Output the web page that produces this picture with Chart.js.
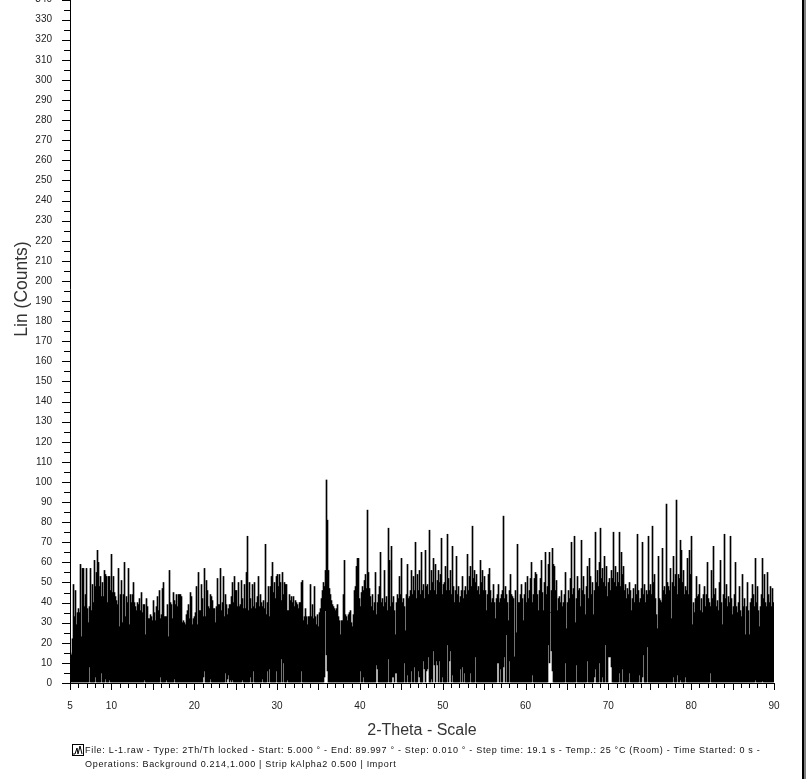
<!DOCTYPE html>
<html>
<head>
<meta charset="utf-8">
<title>L-1 XRD</title>
<script src="https://cdn.jsdelivr.net/npm/chart.js@4"></script>
<style>
  html, body { margin: 0; height: 100%; background: #fff; overflow: hidden; }
  #chart { position: absolute; left: 0; top: -129px; }
  .edge { position: absolute; top: 0; height: 779px; }
  #footer {
    position: absolute; left: 85px; top: 743px; white-space: nowrap;
    font: 9px/14px "Liberation Sans", Arial, sans-serif; letter-spacing: 0.7px; color: #111;
  }
  #scanIcon { position: absolute; left: 72px; top: 744px; }
</style>
</head>
<body>
<canvas id="chart" width="806" height="908"></canvas>
<svg id="scanIcon" width="12" height="12" viewBox="0 0 12 12">
  <rect x="0.5" y="0.5" width="11" height="11" fill="none" stroke="#000"/>
  <polyline points="1,10 3,10 5,4 6,10 8,2 10,10" fill="none" stroke="#000"/>
</svg>
<div id="footer">
  <div>File: L-1.raw - Type: 2Th/Th locked - Start: 5.000 ° - End: 89.997 ° - Step: 0.010 ° - Step time: 19.1 s - Temp.: 25 °C (Room) - Time Started: 0 s -</div>
  <div>Operations: Background 0.214,1.000 | Strip kAlpha2 0.500 | Import</div>
</div>
<div class="edge" style="left:802px;width:2px;background:#000"></div>
<div class="edge" style="left:804px;width:2px;background:#808080"></div>

<script>
const startAngle = 5;
const endAngle = 90;
const xLabels = [5, 10, 20, 30, 40, 50, 60, 70, 80, 90];

// peak height of each drawn column, 50 columns a row
const counts = [
  15,14,22,49,33,46,29,35,37,35,59,23,57,57,38,44,57,37,30,38,57,36,49,40,61,48,55,66,60,48,53,43,50,43,56,54,53,40,53,53,46,64,45,53,45,43,41,39,57,28,
  44,51,30,44,60,33,43,40,57,29,44,40,44,50,40,38,36,40,39,42,36,45,35,39,39,24,42,38,32,32,34,33,31,41,35,31,38,43,36,46,32,34,47,50,33,33,33,39,23,56,
  40,39,32,45,41,39,44,38,44,44,44,43,30,31,30,29,34,36,39,32,45,43,29,32,33,35,48,29,55,36,36,49,42,33,57,33,51,46,38,37,44,43,41,37,37,30,38,52,39,39,
  57,36,40,53,33,44,39,34,37,39,39,43,50,40,53,46,46,38,50,38,39,51,42,37,49,37,55,73,36,50,42,37,49,38,50,37,40,43,53,38,44,40,38,41,37,69,34,40,48,33,
  48,53,60,45,50,42,53,54,48,54,50,41,55,44,50,49,49,36,36,44,41,43,40,43,38,41,40,39,37,40,40,50,51,31,33,37,33,29,33,33,49,33,39,32,48,33,29,34,28,35,
  37,42,46,50,48,56,101,81,56,47,44,41,39,38,37,36,37,39,33,31,24,31,31,44,61,34,33,31,34,35,36,30,28,34,46,48,58,62,62,42,38,45,48,46,51,54,47,86,55,47,
  43,38,44,36,40,55,34,40,44,48,65,40,42,38,56,40,43,36,77,61,38,68,40,43,36,24,40,44,42,53,44,62,40,42,38,26,44,59,42,43,46,56,44,53,46,70,42,54,46,56,
  44,65,46,49,42,66,48,49,44,76,46,56,50,62,46,59,44,51,56,50,54,72,44,49,50,58,46,74,52,46,56,44,68,48,40,46,63,44,48,40,43,46,53,42,46,48,44,64,46,53,
  58,48,78,52,56,50,54,46,48,44,61,50,56,46,53,46,36,44,54,57,46,40,42,49,40,32,42,44,49,40,42,44,46,83,42,48,44,40,31,46,54,44,43,42,13,46,25,69,40,40,
  44,49,42,31,44,50,40,53,42,46,52,60,40,44,52,55,54,44,36,46,52,61,45,36,50,65,44,48,59,65,35,46,67,59,58,46,51,36,42,43,40,46,38,40,44,55,27,40,46,42,
  52,70,44,47,73,30,42,53,46,47,38,71,46,53,44,34,48,58,42,62,53,44,50,34,46,75,50,56,48,60,77,52,57,50,63,48,58,43,50,52,46,56,52,75,50,58,48,55,50,75,
  48,65,54,58,46,49,42,47,44,50,46,36,42,47,40,49,44,74,46,40,42,47,70,44,49,40,46,44,73,46,49,44,78,50,54,42,34,27,63,42,41,40,67,46,48,44,89,50,48,46,
  57,32,50,63,48,54,91,44,54,52,71,66,50,56,44,48,46,62,44,66,54,73,29,40,35,42,53,43,44,49,36,42,35,44,48,38,44,60,42,40,38,56,42,68,44,47,38,41,36,50,
  61,40,29,44,74,42,49,38,43,40,73,42,34,38,44,60,38,35,40,48,36,33,54,38,42,24,38,50,36,24,40,42,49,44,38,62,40,48,36,28,38,44,62,42,54,40,38,55,44,40,48,38,47,40
];

// columns that stop short of the baseline, and the count where they start
const gapColumns = [19,25,31,35,39,74,90,96,104,133,134,140,155,157,158,160,162,172,180,183,192,197,199,206,211,213,217,231,254,255,256,257,290,293,306,307,318,322,323,325,326,334,337,341,344,348,349,353,354,356,357,358,361,363,364,366,367,369,372,377,379,380,382,390,392,394,400,405,427,428,430,433,434,436,439,462,478,479,480,481,482,495,506,517,524,525,529,532,535,538,539,540,541,549,552,559,569,572,573,577,603,607,610,615,640,685,692];
const gapFloors = [8,3,5,2,1.5,1.5,3,1.5,2,3,6,2,5,2,4,1.5,1.5,1.5,3,6,2,6,7,6,12,10,1.5,6,3,36,14,6,6,3,9,7,12,3,3,5,5,10,4,6,8,6,3,11,7,6,7,13,2,16,9,11,9,11,3,19,11,16,4,7,8,5,5,13,10,10,7,8,13,24,11,4,19,10,35,16,6,10,9,11,3,7,10,3,19,13,13,13,8,5,7,5,4,3,14,18,3,4,1.5,3,5,1.5,1];
const baseFloor = 0.5;

const columnWidth = (endAngle - startAngle) / counts.length;
const scanBars = counts.map((c, i) => {
  const g = gapColumns.indexOf(i);
  return { x: startAngle + (i + 0.5) * columnWidth, y: [g >= 0 ? gapFloors[g] : baseFloor, c] };
});

// Chart.js only has one tick length, so the long and short marks are drawn here
const tickMarks = {
  id: 'tickMarks',
  afterDraw(chart) {
    const { ctx, scales: { x, y } } = chart;
    ctx.save();
    ctx.strokeStyle = '#000';
    ctx.lineWidth = 1;
    ctx.beginPath();
    for (let v = 0; v <= 390; v += 5) {
      const py = Math.round(y.getPixelForValue(v)) + 0.5;
      ctx.moveTo(x.left - (v % 10 === 0 ? 8 : 6), py);
      ctx.lineTo(x.left, py);
    }
    for (let v = startAngle; v <= endAngle; v++) {
      const px = Math.round(x.getPixelForValue(v)) + 0.5;
      ctx.moveTo(px, y.bottom);
      ctx.lineTo(px, y.bottom + (v % 5 === 0 ? 7 : 5));
    }
    ctx.stroke();
    ctx.restore();
  }
};

const tickFont = { family: '"Liberation Sans", Arial', size: 10 };

new Chart(document.getElementById('chart'), {
  type: 'bar',
  data: {
    datasets: [{
      data: scanBars,
      backgroundColor: '#000',
      barThickness: 1,
      borderWidth: 0
    }]
  },
  options: {
    responsive: false,
    animation: false,
    devicePixelRatio: 1,
    layout: { padding: { top: 4, right: 32, left: 0, bottom: 0 } },
    plugins: { legend: { display: false }, tooltip: { enabled: false } },
    scales: {
      x: {
        type: 'linear',
        offset: false,
        min: startAngle,
        max: endAngle,
        grid: { display: false, drawTicks: false },
        border: { color: '#000', width: 1 },
        afterBuildTicks: (scale) => { scale.ticks = xLabels.map(v => ({ value: v })); },
        afterFit: (scale) => { scale.height = 96; },
        ticks: { font: tickFont, color: '#222', padding: 17, maxRotation: 0, autoSkip: false },
        title: {
          display: true,
          text: '2-Theta - Scale',
          color: '#333',
          font: { family: '"Liberation Sans", Arial', size: 16 },
          padding: { top: 0, bottom: 39 }
        }
      },
      y: {
        min: 0,
        max: 392,
        grid: { display: false, drawTicks: false },
        border: { color: '#000', width: 1 },
        afterFit: (scale) => { scale.width = 70; },
        ticks: { stepSize: 10, font: tickFont, color: '#222', padding: 18, autoSkip: false },
        title: {
          display: true,
          text: 'Lin (Counts)',
          color: '#333',
          font: { family: '"Liberation Sans", Arial', size: 17.5 },
          padding: { top: 12, bottom: 0 }
        }
      }
    }
  },
  plugins: [tickMarks]
});
</script>
</body>
</html>
